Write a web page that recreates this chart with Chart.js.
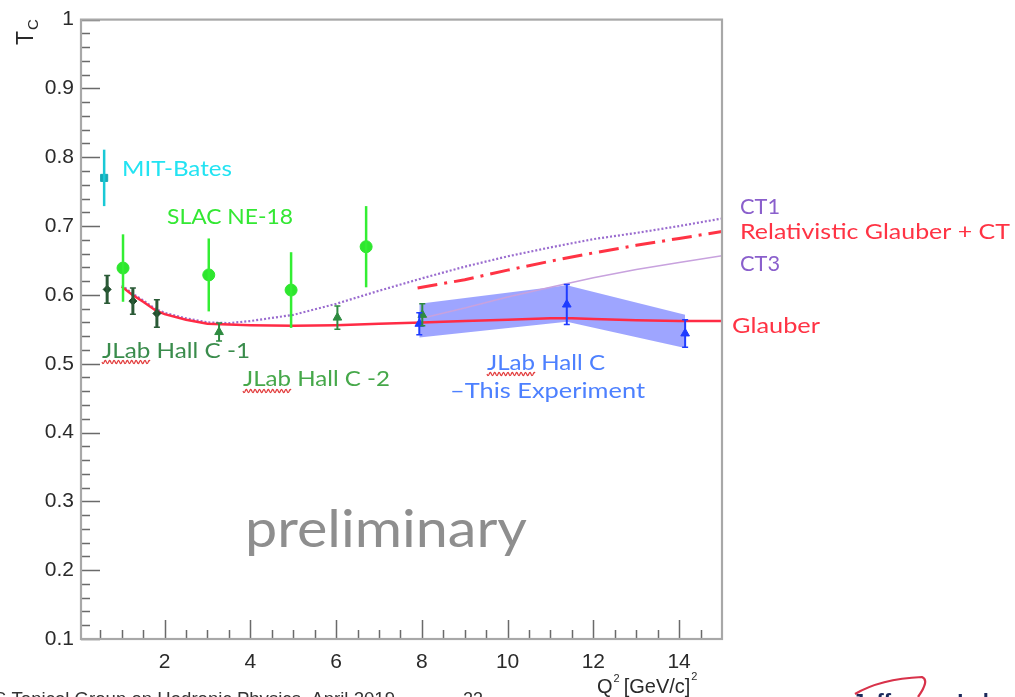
<!DOCTYPE html>
<html><head><meta charset="utf-8">
<script src="https://cdn.jsdelivr.net/npm/chart.js@4.4.1/dist/chart.umd.min.js"></script>
<style>html,body{margin:0;padding:0;background:#fff;overflow:hidden}#wrap{position:relative;width:1015px;height:697px}</style>
</head><body><div id="wrap"><canvas id="c" width="1015" height="697"></canvas></div>
<script>
// ---- tick labels ----
const xTickLabels = [2, 4, 6, 8, 10, 12, 14];
const yTickLabels = [0.1, 0.2, 0.3, 0.4, 0.5, 0.6, 0.7, 0.8, 0.9, 1];

// ---- data points (Q^2, Tc, error) ----
const mitX = [0.59];
const mitY = [0.770];
const mitErr = [0.041];

const slacX = [1.03, 3.03, 4.95, 6.70];
const slacY = [0.639, 0.629, 0.607, 0.670];
const slacErr = [0.049, 0.053, 0.055, 0.059];

const hallC1X = [0.66, 1.26, 1.82];
const hallC1Y = [0.608, 0.591, 0.573];
const hallC1Err = [0.020, 0.019, 0.020];

const hallC2X = [3.27, 6.03, 8.01];
const hallC2Y = [0.546, 0.567, 0.571];
const hallC2Err = [0.013, 0.017, 0.016];

const thisExpX = [7.94, 11.38, 14.14];
const thisExpY = [0.558, 0.586, 0.544];
const thisExpErr = [0.016, 0.029, 0.020];

const bandX = [7.94, 11.38, 14.14];
const bandHigh = [0.587, 0.614, 0.571];
const bandLow = [0.538, 0.561, 0.523];

// ---- theory curves ----
const glauberX = [1.0, 1.25, 1.5, 1.8, 2.0, 2.5, 3.0, 3.5, 4, 5, 6, 7, 8, 9, 10, 11, 11.5, 12, 13, 14, 15];
const glauberY = [0.612, 0.600, 0.590, 0.577, 0.572, 0.564, 0.558, 0.557, 0.556, 0.555, 0.556, 0.558, 0.560, 0.562, 0.564, 0.566, 0.566, 0.565, 0.563, 0.562, 0.562];

const ct1X = [1.0, 1.25, 1.5, 1.8, 2.0, 2.5, 3.0, 3.5, 4, 5, 6, 7, 8, 9, 10, 11, 12, 13, 14, 15];
const ct1Y = [0.614, 0.602, 0.592, 0.579, 0.574, 0.566, 0.560, 0.559, 0.562, 0.571, 0.587, 0.606, 0.624, 0.641, 0.656, 0.669, 0.681, 0.690, 0.700, 0.711];

const relCtX = [7.9, 9, 10, 11, 12, 13, 14, 15];
const relCtY = [0.610, 0.622, 0.636, 0.649, 0.661, 0.672, 0.682, 0.692];

const ct3X = [8, 9, 10, 11, 12, 13, 14, 15];
const ct3Y = [0.566, 0.581, 0.597, 0.611, 0.625, 0.637, 0.647, 0.657];

function pts(xs, ys) { return xs.map((x, i) => ({ x: x, y: ys[i] })); }

const TICK_FONT = '"Liberation Sans", Arial, sans-serif';
const LBL_FONT = 'Lato, "Open Sans", sans-serif';

function fitText(ctx, txt, x, y, w, font, color) {
  ctx.save();
  ctx.font = font;
  const m = ctx.measureText(txt).width;
  ctx.translate(x, y);
  if (w) ctx.scale(w / m, 1);
  ctx.fillStyle = color;
  ctx.textBaseline = 'alphabetic';
  ctx.textAlign = 'left';
  ctx.fillText(txt, 0, 0);
  ctx.restore();
}
function squiggle(ctx, x1, x2, y) {
  ctx.save();
  ctx.strokeStyle = '#e23b3b';
  ctx.lineWidth = 1.2;
  ctx.beginPath();
  for (let x = x1; x <= x2; x += 0.5) {
    const yy = y + 1.6 * Math.sin((x - x1) * Math.PI / 2.2);
    if (x === x1) ctx.moveTo(x, yy); else ctx.lineTo(x, yy);
  }
  ctx.stroke();
  ctx.restore();
}

const rootStyle = {
  id: 'rootStyle',
  afterDatasetsDraw(chart) {
    const ctx = chart.ctx;
    const xs = chart.scales.x, ys = chart.scales.y;
    const sets = [
      { x: mitX, y: mitY, e: mitErr, c: '#19c9d6', w: 2.5, cap: 0 },
      { x: slacX, y: slacY, e: slacErr, c: '#33ee33', w: 2.5, cap: 0 },
      { x: hallC1X, y: hallC1Y, e: hallC1Err, c: '#2a5a36', w: 3, cap: 3 },
      { x: hallC2X, y: hallC2Y, e: hallC2Err, c: '#2e8b40', w: 2, cap: 3 },
      { x: thisExpX, y: thisExpY, e: thisExpErr, c: '#1f3cff', w: 2, cap: 3 }
    ];
    ctx.save();
    sets.forEach(s => {
      ctx.strokeStyle = s.c;
      ctx.lineWidth = s.w;
      s.x.forEach((xv, i) => {
        const px = xs.getPixelForValue(xv);
        const pt = ys.getPixelForValue(s.y[i] + s.e[i]);
        const pb = ys.getPixelForValue(s.y[i] - s.e[i]);
        ctx.beginPath(); ctx.moveTo(px, pt); ctx.lineTo(px, pb); ctx.stroke();
        if (s.cap) {
          ctx.lineWidth = 1.5;
          ctx.beginPath();
          ctx.moveTo(px - s.cap, pt); ctx.lineTo(px + s.cap, pt);
          ctx.moveTo(px - s.cap, pb); ctx.lineTo(px + s.cap, pb);
          ctx.stroke();
          ctx.lineWidth = s.w;
        }
      });
    });
    ctx.restore();
  },
  afterDraw(chart) {
    const ctx = chart.ctx;
    const a = chart.chartArea;
    const xs = chart.scales.x, ys = chart.scales.y;
    ctx.save();
    ctx.strokeStyle = '#6a6a6a';
    ctx.lineWidth = 1.5;
    ctx.beginPath();
    for (let k = 1; k * 0.5 < xs.max; k++) {
      const v = k * 0.5;
      if (v < xs.min) continue;
      const px = Math.round(xs.getPixelForValue(v)) + 0.5;
      const len = (k % 4 === 0) ? 19 : 9;
      ctx.moveTo(px, a.bottom); ctx.lineTo(px, a.bottom - len);
    }
    for (let k = 5; k <= 50; k++) {
      const v = k * 0.02;
      const py = Math.round(ys.getPixelForValue(v)) + 0.5;
      const len = (k % 5 === 0) ? 19 : 9;
      ctx.moveTo(a.left, py); ctx.lineTo(a.left + len, py);
    }
    ctx.stroke();
    ctx.strokeStyle = '#a8a8a8';
    ctx.lineWidth = 2.2;
    ctx.strokeRect(a.left, a.top, a.right - a.left, a.bottom - a.top);
    ctx.restore();

    // axis titles
    ctx.save();
    ctx.fillStyle = '#2a2a2a';
    ctx.translate(33, 45);
    ctx.rotate(-Math.PI / 2);
    ctx.font = '23px ' + TICK_FONT;
    ctx.fillText('T', 0, 0);
    const tw = ctx.measureText('T').width;
    ctx.font = '15px ' + TICK_FONT;
    ctx.fillText('C', tw + 1, 5);
    ctx.restore();

    ctx.save();
    ctx.fillStyle = '#2a2a2a';
    ctx.textBaseline = 'alphabetic';
    let x0 = 597, yb = 693;
    ctx.font = '20px ' + TICK_FONT;
    ctx.fillText('Q', x0, yb); x0 += ctx.measureText('Q').width;
    ctx.font = '11px ' + TICK_FONT;
    ctx.fillText('2', x0 + 1, yb - 11); x0 += ctx.measureText('2').width + 5;
    ctx.font = '20px ' + TICK_FONT;
    ctx.fillText('[GeV/c]', x0, yb); x0 += ctx.measureText('[GeV/c]').width;
    ctx.font = '11px ' + TICK_FONT;
    ctx.fillText('2', x0 + 1, yb - 13);
    ctx.restore();

    // annotations
    fitText(ctx, 'MIT-Bates', 122, 176, 110, '22px ' + LBL_FONT, '#22e3f2');
    fitText(ctx, 'SLAC NE-18', 167, 224, 126, '22px ' + LBL_FONT, '#33e833');
    fitText(ctx, 'JLab Hall C -1', 102, 358, 148, '22px ' + LBL_FONT, '#3a8c4c');
    squiggle(ctx, 102, 150, 362);
    fitText(ctx, 'JLab Hall C -2', 243, 386, 147, '22px ' + LBL_FONT, '#46a84a');
    squiggle(ctx, 243, 291, 391);
    fitText(ctx, 'JLab Hall C', 487, 370, 118, '22px ' + LBL_FONT, '#4d80ff');
    squiggle(ctx, 487, 535, 374);
    fitText(ctx, '\u2013This Experiment', 450, 398, 195, '22px ' + LBL_FONT, '#4d80ff');
    fitText(ctx, 'CT1', 740, 214, 40, '22px ' + LBL_FONT, '#8a5fcc');
    fitText(ctx, 'Relativistic Glauber + CT', 740, 239, 270, '22px ' + LBL_FONT, '#ff3344');
    fitText(ctx, 'CT3', 740, 271, 40, '22px ' + LBL_FONT, '#8a5fcc');
    fitText(ctx, 'Glauber', 732, 333, 88, '22px ' + LBL_FONT, '#ff3344');
    fitText(ctx, 'preliminary', 245, 547, 282, '52px ' + LBL_FONT, '#8e8e8e');

    // footer (cut off at page bottom)
    ctx.save();
    ctx.font = '18px ' + TICK_FONT;
    ctx.fillStyle = '#333';
    ctx.textBaseline = 'alphabetic';
    ctx.textAlign = 'left';
    fitText(ctx, 'S Topical Group on Hadronic Physics, April 2019', -6, 705, 401, '18px ' + TICK_FONT, '#333');
    ctx.fillText('23', 463, 705);
    ctx.font = 'bold 22px ' + TICK_FONT;
    ctx.fillStyle = '#1b2a5c';
    ctx.fillText('Jefferson Lab', 852, 709);
    ctx.strokeStyle = '#d8324a';
    ctx.lineWidth = 2.2;
    ctx.beginPath();
    ctx.moveTo(855, 694);
    ctx.quadraticCurveTo(880, 679, 922, 677);
    ctx.quadraticCurveTo(930, 680, 918, 697);
    ctx.stroke();
    ctx.restore();
  }
};

const lineDs = (label, xs, ys, color, width, dash) => ({
  label, data: pts(xs, ys), borderColor: color, borderWidth: width, borderDash: dash || [],
  pointRadius: 0, showLine: true, fill: false, tension: 0
});
const pointDs = (label, xs, ys, color, style, r) => ({
  label, data: pts(xs, ys), showLine: false, pointStyle: style, pointRadius: r,
  pointBackgroundColor: color, pointBorderColor: color, pointBorderWidth: 1
});

const chart = new Chart(document.getElementById('c'), {
  type: 'line',
  data: {
    datasets: [
      pointDs('MIT-Bates', mitX, mitY, '#17a9b5', 'rect', 5),
      pointDs('SLAC NE-18', slacX, slacY, '#2ee62e', 'circle', 6),
      pointDs('JLab Hall C -1', hallC1X, hallC1Y, '#1c4a28', 'rectRot', 4),
      pointDs('JLab Hall C -2', hallC2X, hallC2Y, '#2e8b40', 'triangle', 5),
      pointDs('This Experiment', thisExpX, thisExpY, '#1f3cff', 'triangle', 5),
      lineDs('Glauber', glauberX, glauberY, '#ff2b45', 2.5),
      lineDs('Relativistic Glauber + CT', relCtX, relCtY, '#ff3344', 3, [20, 7, 3, 7]),
      lineDs('CT1', ct1X, ct1Y, '#9a6ccf', 2.2, [2, 2]),
      lineDs('CT3', ct3X, ct3Y, '#c8a2de', 1.5),
      { label: 'band high', data: pts(bandX, bandHigh), showLine: true, borderWidth: 0, borderColor: 'rgba(0,0,0,0)',
        pointRadius: 0, fill: { target: '+1' }, backgroundColor: 'rgba(88,100,255,0.58)', tension: 0 },
      { label: 'band low', data: pts(bandX, bandLow), showLine: true, borderWidth: 0, borderColor: 'rgba(0,0,0,0)',
        pointRadius: 0, fill: false, tension: 0 }
    ]
  },
  options: {
    responsive: false,
    devicePixelRatio: 1,
    animation: false,
    layout: { padding: { left: 0, top: 18, right: 293, bottom: 0 } },
    plugins: { legend: { display: false }, tooltip: { enabled: false } },
    scales: {
      x: {
        type: 'linear', min: 0.05, max: 15,
        afterBuildTicks: s => { s.ticks = xTickLabels.map(v => ({ value: v })); },
        afterFit: s => { s.height = 58; },
        grid: { display: false, drawTicks: false }, border: { display: false },
        ticks: { padding: 11, color: '#2a2a2a', font: { family: TICK_FONT, size: 21 }, maxRotation: 0, autoSkip: false,
                 callback: v => String(v) }
      },
      y: {
        type: 'linear', min: 0.1, max: 1,
        afterBuildTicks: s => { s.ticks = yTickLabels.map(v => ({ value: v })); },
        afterFit: s => { s.width = 81; },
        grid: { display: false, drawTicks: false }, border: { display: false },
        ticks: { padding: 7, color: '#2a2a2a', font: { family: TICK_FONT, size: 21 }, autoSkip: false,
                 callback: v => String(v) }
      }
    }
  },
  plugins: [rootStyle]
});
</script>
</body></html>
